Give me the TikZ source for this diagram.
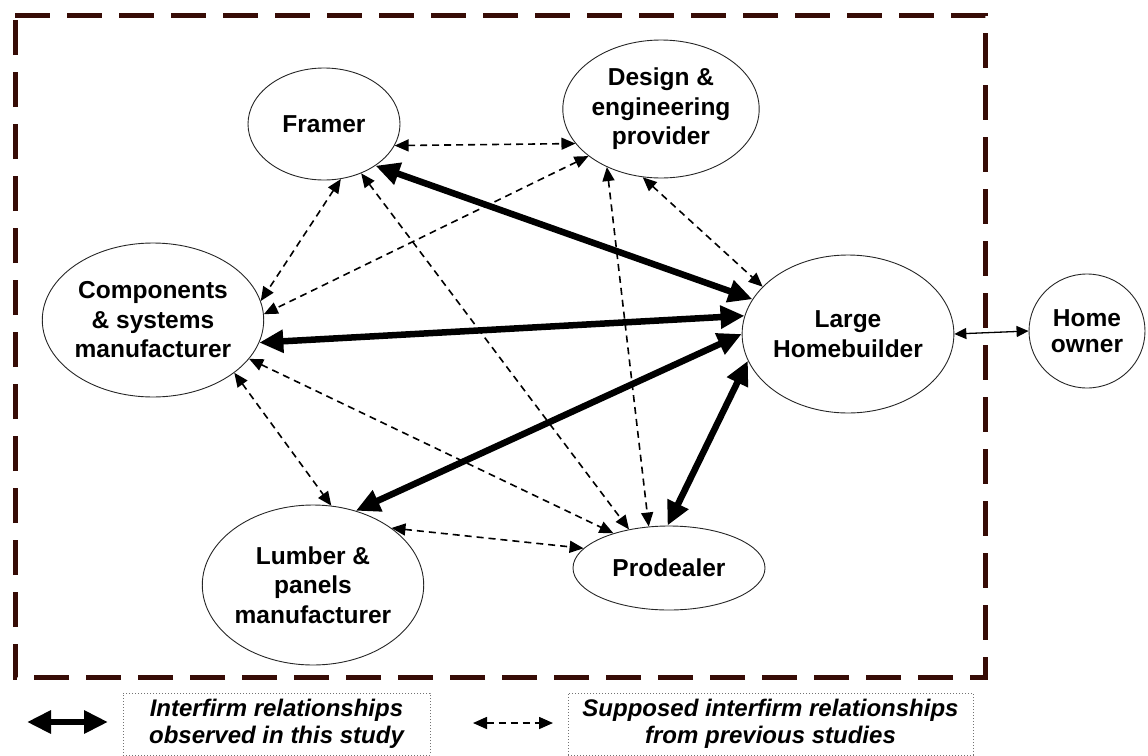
\documentclass[tikz,border=0pt]{standalone}
\usepackage{fontspec}
\setmainfont{Liberation Sans}
\usetikzlibrary{shapes.geometric,arrows.meta}
\definecolor{framebrown}{RGB}{55,12,6}
\tikzset{
  ell/.style={ellipse, draw=black!85, line width=0.9pt, inner sep=0pt, align=center,
    font=\bfseries\fontsize{24.5}{29.5}\selectfont},
  observed/.style={line width=6.5pt, {Triangle[length=24pt,width=22pt]}-{Triangle[length=24pt,width=22pt]}},
  supposed/.style={line width=1.6pt, dash pattern=on 7pt off 5pt,
    {Triangle[length=14pt,width=12pt]}-{Triangle[length=14pt,width=12pt]}},
  thinlink/.style={line width=1.3pt, {Triangle[length=12pt,width=11pt]}-{Triangle[length=12pt,width=11pt]}},
  legendbox/.style={draw=black!55, dotted, line width=1pt, inner sep=0pt, align=center,
    font=\bfseries\itshape\fontsize{24}{27}\selectfont}
}
\begin{document}
\begin{tikzpicture}[x=1pt,y=-1pt]
\useasboundingbox (0,0) rectangle (1148,755);
% frame
\draw[framebrown, line width=5pt, dash pattern=on 35pt off 17pt]
  (15,15) -- (985,15) -- (985,677) -- (15,677) -- cycle;
% nodes
\node[ell, minimum width=152pt, minimum height=112pt] (fr) at (324,124) {Framer};
\node[ell, minimum width=182pt, minimum height=138pt] (de) at (661,109) {Design \&\\engineering\\provider};
\node[ell, minimum width=220pt, minimum height=154pt] (co) at (153,320) {Components\\\& systems\\manufacturer};
\node[ell, minimum width=196pt, minimum height=158pt] (lh) at (848,334) {Large\\Homebuilder};
\node[ell, minimum width=116pt, minimum height=114pt, font=\bfseries\fontsize{24.5}{26}\selectfont] (ho) at (1087,331) {Home\\owner};
\node[ell, minimum width=212pt, minimum height=160pt] (lu) at (313,585) {Lumber \&\\panels\\manufacturer};
\node[ell, minimum width=192pt, minimum height=84pt] (pr) at (669,568) {Prodealer};
% supposed relationships
\draw[supposed] (fr.-17) -- (de.202);
\draw[supposed] (fr.-73) -- (co.10);
\draw[supposed] (fr.-53) -- (pr.136);
\draw[supposed] (de.213) -- (co.3);
\draw[supposed] (de.227) -- (pr.116);
\draw[supposed] (de.255) -- (lh.151);
\draw[supposed] (co.-22) -- (pr.148);
\draw[supposed] (co.-33) -- (lu.77);
\draw[supposed] (lu.36) -- (pr.167);
% observed relationships
\draw[observed] (fr.-39) -- (lh.160);
\draw[observed] (co.-12) -- (lh.170);
\draw[observed] (lu.60) -- (lh.180);
\draw[observed] (pr.92) -- (lh.195);
\draw[thinlink] (lh.east) -- (ho.west);
% legend
\coordinate (oa) at (27,722);
\coordinate (ob) at (108,722);
\draw[observed] (oa) -- (ob);
\node[legendbox, minimum width=307pt, minimum height=62pt] (lb1) at (276.5,724) {Interfirm relationships\\observed in this study};
\coordinate (sa) at (473,723);
\coordinate (sb) at (553,723);
\draw[supposed] (sa) -- (sb);
\node[legendbox, minimum width=405pt, minimum height=62pt] (lb2) at (770.5,724) {Supposed interfirm relationships\\from previous studies};
\end{tikzpicture}
\end{document}
